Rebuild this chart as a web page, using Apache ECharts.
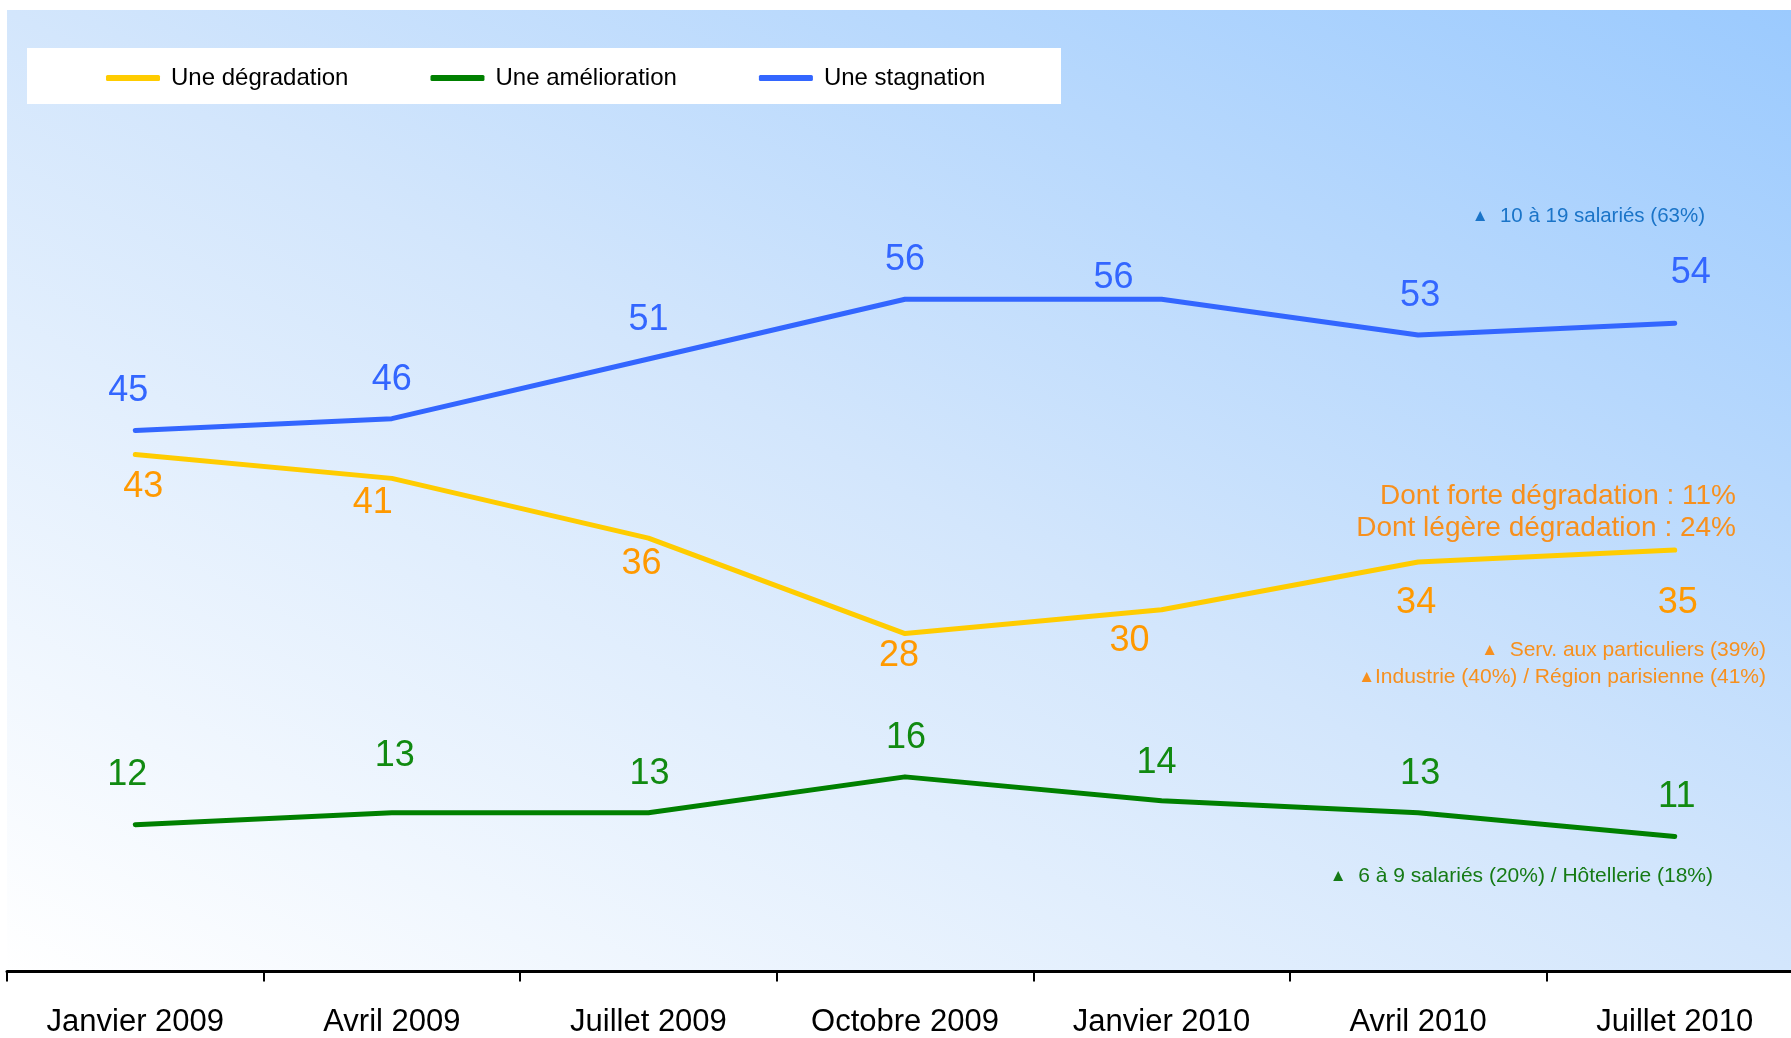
<!DOCTYPE html>
<html>
<head>
<meta charset="utf-8">
<script src="https://cdn.jsdelivr.net/npm/echarts@6/dist/echarts.min.js"></script>
<style>
  html, body { margin: 0; padding: 0; background: #fff; }
  #chart { width: 1791px; height: 1038px; }
</style>
</head>
<body>
<div id="chart"></div>
<script>
const categories = ['Janvier 2009', 'Avril 2009', 'Juillet 2009', 'Octobre 2009', 'Janvier 2010', 'Avril 2010', 'Juillet 2010'];
const degradation = [43, 41, 36, 28, 30, 34, 35];
const amelioration = [12, 13, 13, 16, 14, 13, 11];
const stagnation = [45, 46, 51, 56, 56, 53, 54];

// label offsets (px) per point
const degradationOffsets = [[8, 33], [-19, 25], [-7, 26], [-6, 22], [-32, 31], [-2, 41], [3, 53]];
const ameliorationOffsets = [[-8, -50], [3, -57], [1, -39], [1, -39], [-5, -38], [2, -39], [2, -39]];
const stagnationOffsets = [[-7, -40], [0, -39], [0, -39], [0, -39], [-48, -21], [2, -39], [16, -50]];

const FONT = 'Liberation Sans';

const withOffsets = (values, offsets) => values.map((v, i) => ({
    value: v,
    label: { offset: offsets[i] }
}));

const makeSeries = (name, values, offsets, lineColor, labelColor) => ({
    name: name,
    type: 'line',
    data: withOffsets(values, offsets),
    symbol: 'circle',
    symbolSize: 0.1,
    itemStyle: { color: lineColor },
    lineStyle: { color: lineColor, width: 5, cap: 'round', join: 'round' },
    label: {
        show: true,
        position: 'inside',
        align: 'center',
        verticalAlign: 'middle',
        color: labelColor,
        fontFamily: FONT,
        fontSize: 36
    },
    emphasis: { disabled: true },
    animation: false
});

const smallNote = (x, y, text, color, size) => ({
    type: 'text',
    z: 10,
    x: x, y: y,
    style: {
        text: text,
        align: 'right', verticalAlign: 'middle',
        fill: color, font: size + 'px "' + FONT + '"',
        rich: { t: { fontSize: 17, fill: color, fontFamily: FONT } }
    }
});

const chart = echarts.init(document.getElementById('chart'));

chart.setOption({
    animation: false,
    grid: { left: 7, width: 1796, top: 12.7, bottom: 66.5, containLabel: false, outerBoundsMode: 'none' },
    legend: {
        left: 106,
        top: 66,
        padding: 0,
        icon: 'roundRect',
        itemWidth: 54,
        itemHeight: 6,
        itemGap: 82,
        textStyle: { fontFamily: FONT, fontSize: 24, color: '#000', padding: [0, 0, 0, 6] },
        data: ['Une dégradation', 'Une amélioration', 'Une stagnation']
    },
    xAxis: {
        type: 'category',
        data: categories,
        boundaryGap: true,
        axisLine: { onZero: false, lineStyle: { color: '#000', width: 3 } },
        axisTick: { show: true, length: 10, lineStyle: { color: '#000', width: 2 } },
        axisLabel: { color: '#000', fontFamily: FONT, fontSize: 31, margin: 35, interval: 0 },
        splitLine: { show: false }
    },
    yAxis: {
        type: 'value',
        min: -0.3,
        max: 80,
        show: false,
        splitLine: { show: false }
    },
    graphic: [
        {
            type: 'rect',
            z: -10,
            silent: true,
            shape: { x: 7, y: 10, width: 1784, height: 961 },
            style: {
                fill: new echarts.graphic.LinearGradient(7, 971, 809, -519, [
                    { offset: 0, color: '#ffffff' },
                    { offset: 0.5, color: '#d3e6fc' },
                    { offset: 1, color: '#9bcafe' }
                ], true)
            }
        },
        {
            type: 'rect',
            z: -5,
            silent: true,
            shape: { x: 27, y: 48, width: 1034, height: 56 },
            style: { fill: '#ffffff' }
        },
        smallNote(1705, 216, '{t|▲}  10 à 19 salariés (63%)', '#1a74c8', 20.5),
        {
            type: 'text',
            z: 10,
            x: 1736, y: 496,
            style: {
                text: 'Dont forte dégradation : 11%',
                align: 'right', verticalAlign: 'middle',
                fill: '#f7901e', font: '28px "' + FONT + '"'
            }
        },
        {
            type: 'text',
            z: 10,
            x: 1736, y: 528,
            style: {
                text: 'Dont légère dégradation : 24%',
                align: 'right', verticalAlign: 'middle',
                fill: '#f7901e', font: '28px "' + FONT + '"'
            }
        },
        smallNote(1766, 650, '{t|▲}  Serv. aux particuliers (39%)', '#f7901e', 21),
        smallNote(1766, 677, '{t|▲}Industrie (40%) / Région parisienne (41%)', '#f7901e', 21),
        smallNote(1713, 876, '{t|▲}  6 à 9 salariés (20%) / Hôtellerie (18%)', '#157a15', 21)
    ],
    series: [
        makeSeries('Une dégradation', degradation, degradationOffsets, '#ffcc00', '#ff9900'),
        makeSeries('Une amélioration', amelioration, ameliorationOffsets, '#008000', '#118a11'),
        makeSeries('Une stagnation', stagnation, stagnationOffsets, '#3366ff', '#3366ff')
    ]
});
</script>
</body>
</html>
